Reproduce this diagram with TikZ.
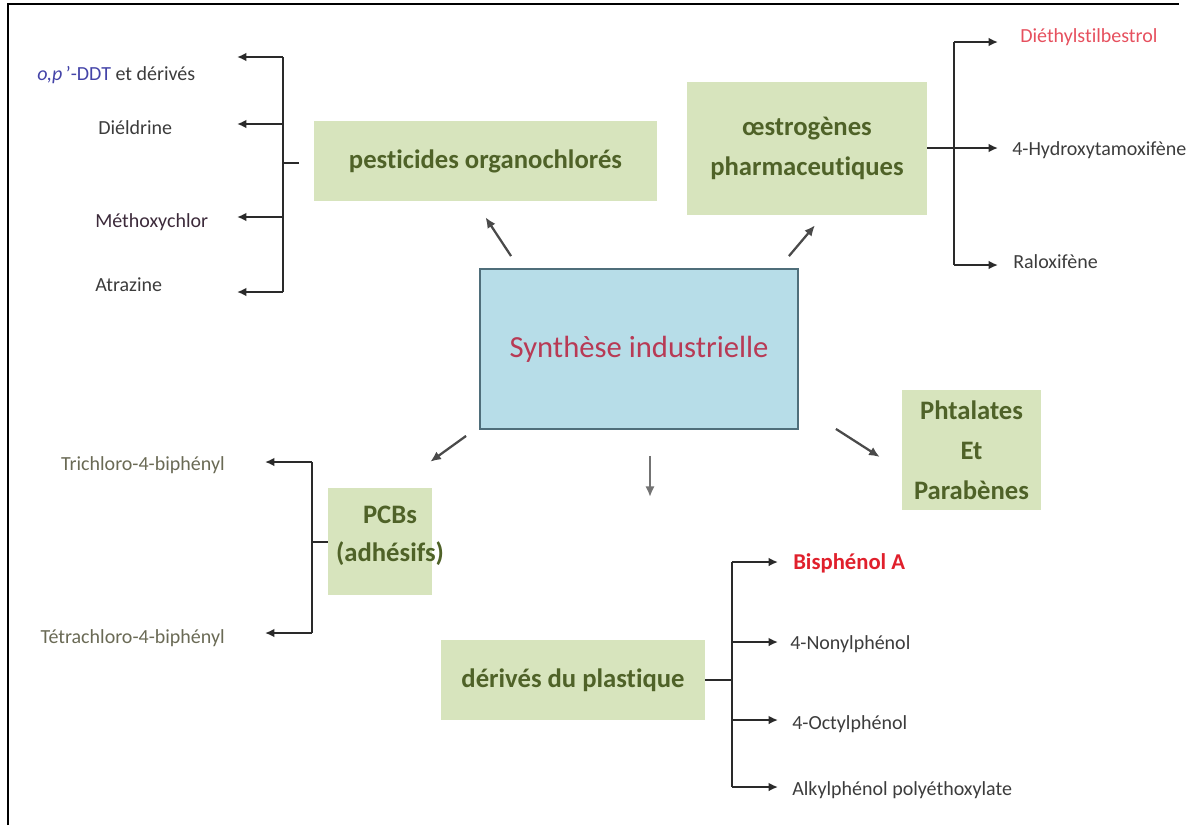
\documentclass[tikz,border=0pt]{standalone}
\usepackage{fontspec}
\setmainfont[Ligatures={NoCommon}]{Carlito}
\usetikzlibrary{arrows.meta,calc}
\definecolor{gfill}{HTML}{D7E4BD}
\definecolor{gtext}{HTML}{4F6228}
\definecolor{bfill}{HTML}{B7DDE8}
\definecolor{bdraw}{HTML}{4F6E7A}
\definecolor{synred}{HTML}{B83A55}
\definecolor{ddtblue}{HTML}{4444A8}
\definecolor{lab}{HTML}{3C3C3C}
\definecolor{pcbcol}{HTML}{6A6A55}
\definecolor{desred}{HTML}{E6505E}
\definecolor{bpared}{HTML}{E0202C}
\definecolor{methcol}{HTML}{3C2A3A}
\definecolor{linecol}{HTML}{2A2A2A}
\begin{document}
\begin{tikzpicture}[x=0.75pt,y=-0.75pt,
  gbox/.style={fill=gfill, draw=none, inner sep=0pt, text=gtext, align=center,
    font=\fontsize{20}{30}\selectfont\bfseries},
  lbl/.style={inner sep=0pt, text=lab, font=\fontsize{15}{18}\selectfont},
  conn/.style={draw=linecol, line width=1.5pt},
  arr/.style={conn, -{Latex[length=7pt,width=6.5pt]}},
  darr/.style={draw=linecol!85, line width=1.7pt, -{Latex[length=8pt,width=7pt]}}]
\useasboundingbox (0,0) rectangle (1196,825);
% outer frame (top and left)
\draw[line width=2pt] (8,825) -- (8,4) -- (1179,4);

% central box
\node[fill=bfill, draw=bdraw, line width=1.4pt, minimum width=238.5pt, minimum height=120pt,
  text=synred, font=\fontsize{23}{28}\selectfont] (synth) at (639,349) {Synthèse industrielle};

% category boxes
\node[gbox, minimum width=257.25pt, minimum height=60pt] (pest) at (485.5,161) {pesticides organochlorés};
\node[gbox, minimum width=180pt, minimum height=99.75pt] (oest) at (807,148.5) {œstrogènes\\pharmaceutiques};
\node[gbox, minimum width=104.25pt, minimum height=90pt] (phta) at (971.5,450) {Phtalates\\Et\\Parabènes};
\node[gbox, minimum width=78pt, minimum height=80.25pt] (pcb) at (380,541.5) {};
\node[inner sep=0pt, text=gtext, align=center, font=\fontsize{20}{28.5}\selectfont\bfseries] (pcbt) at (390,536) {PCBs\\(adhésifs)};
\node[gbox, minimum width=198pt, minimum height=60pt] (plast) at (573,680) {dérivés du plastique};

% arrows from the central box
\draw[darr] ([shift={(32,-12)}]synth.north west) -- ([shift={(0,16)}]pest.south);
\draw[darr] ([shift={(-10,-12)}]synth.north east) -- ([shift={(8,10)}]oest.south);
\draw[darr] ([shift={(-13,6)}]synth.south west) -- ([shift={(-2,-26)}]pcb.north east);
\draw[darr] ([shift={(37,-1)}]synth.south east) -- ([shift={(-22,7)}]phta.west);
\coordinate (dtip) at (650,497);
\draw[line width=1.9pt, draw=gray!90!black, -{Latex[length=8pt,width=7pt]}] ([shift={(11,26)}]synth.south) -- (dtip);

% pesticides bracket
\coordinate (pj) at (283,163);
\coordinate (p1) at (237,57);
\coordinate (p2) at (237,124);
\coordinate (p3) at (237,217);
\coordinate (p4) at (237,292);
\draw[conn] ([xshift=-11]pest.west |- pj) -- (pj);
\draw[conn] (pj |- p1) -- (pj |- p4);
\foreach \p in {p1,p2,p3,p4} \draw[arr] (pj |- \p) -- (\p);
\node[lbl, anchor=west] (ddt) at (37,75) {\textcolor{ddtblue}{\textit{o,p}\,’-DDT} et dérivés};
\node[lbl, anchor=west] (diel) at (98,128) {Diéldrine};
\node[lbl, anchor=west, text=methcol] (meth) at (95,222) {Méthoxychlor};
\node[lbl, anchor=west] (atra) at (95,285) {Atrazine};

% oestrogens bracket
\coordinate (oj) at (954,148);
\coordinate (o1) at (998,42);
\coordinate (o2) at (998,148);
\coordinate (o3) at (998,265);
\draw[conn] (oest.east |- oj) -- (oj);
\draw[conn] (oj |- o1) -- (oj |- o3);
\foreach \p in {o1,o2,o3} \draw[arr] (oj |- \p) -- (\p);
\node[lbl, anchor=west, text=desred] (dies) at (1020,37) {Diéthylstilbestrol};
\node[lbl, anchor=west] (hydr) at (1012,150) {4-Hydroxytamoxifène};
\node[lbl, anchor=west] (ralo) at (1013,262) {Raloxifène};

% PCB bracket
\coordinate (cj) at (312,541.5);
\coordinate (c1) at (265,462);
\coordinate (c2) at (265,633);
\draw[conn] (pcb.west) -- (cj);
\draw[conn] (cj |- c1) -- (cj |- c2);
\foreach \p in {c1,c2} \draw[arr] (cj |- \p) -- (\p);
\node[lbl, anchor=east, text=pcbcol] (tri) at (225,465) {Trichloro-4-biphényl};
\node[lbl, anchor=east, text=pcbcol] (tetra) at (225,638) {Tétrachloro-4-biphényl};

% plastics bracket
\coordinate (lj) at (732,680);
\coordinate (l1) at (778,562);
\coordinate (l2) at (778,642);
\coordinate (l3) at (778,720);
\coordinate (l4) at (778,787);
\draw[conn] (plast.east) -- (lj);
\draw[conn] (lj |- l1) -- (lj |- l4);
\foreach \p in {l1,l2,l3,l4} \draw[arr] (lj |- \p) -- (\p);
\node[lbl, anchor=west, text=bpared, font=\fontsize{17}{20}\selectfont\bfseries] (bpa) at (793,563) {Bisphénol A};
\node[lbl, anchor=west] (nony) at (790,644) {4-Nonylphénol};
\node[lbl, anchor=west] (octy) at (792,724) {4-Octylphénol};
\node[lbl, anchor=west] (alky) at (792,790) {Alkylphénol polyéthoxylate};
\end{tikzpicture}
\end{document}
